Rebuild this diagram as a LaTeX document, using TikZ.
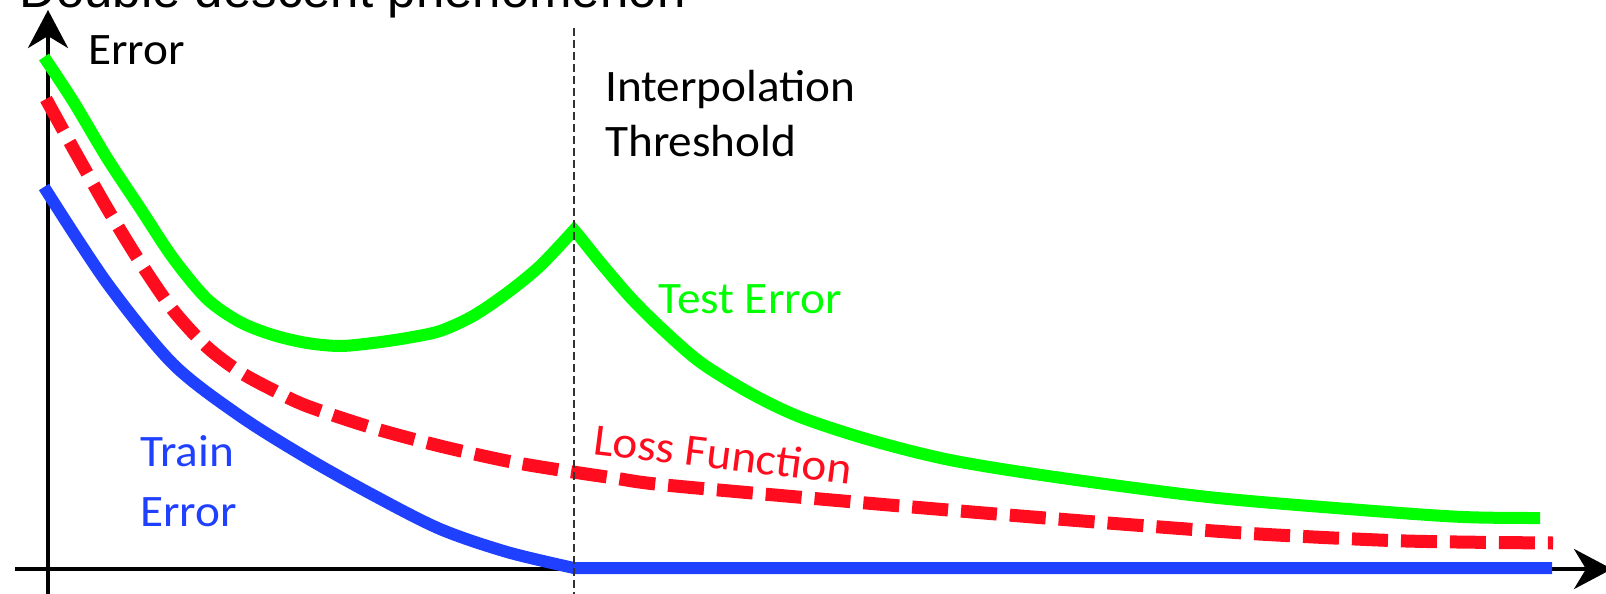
\documentclass[tikz,border=0pt]{standalone}
\usepackage{fontspec}
\setmainfont{Carlito}
\newfontfamily\titlefont{Liberation Sans}
\usetikzlibrary{arrows.meta}
\definecolor{testgreen}{RGB}{0,255,0}
\definecolor{lossred}{RGB}{255,12,30}
\definecolor{trainblue}{RGB}{32,64,255}
\begin{document}
\begin{tikzpicture}[x=1pt,y=-1pt,
  axisline/.style={line width=4pt, black,
    -{Stealth[length=38pt,width=40pt,inset=12pt]}},
  curve/.style={line width=12pt, line cap=butt},
  threshline/.style={line width=2pt, black!80, dash pattern=on 8pt off 4pt},
  lbl/.style={inner sep=0pt, anchor=base west, xscale=1.05,
    font=\fontsize{45}{50}\selectfont},
]
\useasboundingbox (0,0) rectangle (1606,594);
\clip (0,0) rectangle (1606,594);

% title, partly above the frame
\node[inner sep=0pt, anchor=base west,
  font=\titlefont\fontsize{51}{60}\selectfont] (title) at (19,8)
  {Double descent phenomenon};

% axes
\coordinate (ybot) at (48,600);
\coordinate (ytip) at (48,10);
\coordinate (xleft) at (15,569);
\coordinate (xtip) at (1612,569);
\draw[axisline] (ybot) -- (ytip);
\draw[axisline] (xleft) -- (xtip);

% test error: descent, peak at the threshold, second descent
\draw[curve, testgreen, line join=miter]
  plot[smooth] coordinates {(44,57) (73,101) (107,158) (140,208) (173,258)
    (207,299) (240,322) (273,335) (307,343) (340,346) (373,343) (407,338)
    (440,331) (473,316) (507,293) (540,266) (574,230)}
  -- plot[smooth] coordinates {(580,237) (600,262) (630,297) (660,327)
    (700,362) (750,393) (800,417) (870,440) (950,460) (1055,477)
    (1208,497) (1361,510) (1463,517) (1540,518)};

% loss function
\draw[curve, lossred, line width=13pt, dash pattern=on 36pt off 13pt]
  plot[smooth] coordinates {(46,99) (73,148) (107,208) (140,262) (173,310)
    (207,347) (240,372) (273,390) (307,406) (373,428) (440,446) (507,461)
    (560,470) (614,478) (665,485) (843,501) (984,513) (1121,524)
    (1259,534) (1406,541) (1553,543)};

% train error
\coordinate (tz) at (574,568);
\coordinate (tend) at (1552,568);
\draw[curve, trainblue, line join=round]
  plot[smooth] coordinates {(44,187) (107,283) (173,364) (240,416)
    (307,458) (373,495) (440,529) (507,552) (574,568)} -- (tend);

% interpolation threshold
\coordinate (thtop) at (574,28);
\coordinate (thbot) at (574,600);
\draw[threshline] (thtop) -- (thbot);

% labels
\node[lbl] (ylab) at (88,65) {Error};
\node[lbl] (interp) at (605,101) {Interpolation};
\node[lbl] (thresh) at (605,156) {Threshold};
\node[lbl, text=testgreen] (testlab) at (658,313) {Test Error};
\node[lbl, text=trainblue] (trainlab) at (140,466) {Train};
\node[lbl, text=trainblue] (trainlab2) at (140,526) {Error};
\node[lbl, text=lossred, rotate=-7] (losslab) at (592,454) {Loss Function};
\end{tikzpicture}
\end{document}
